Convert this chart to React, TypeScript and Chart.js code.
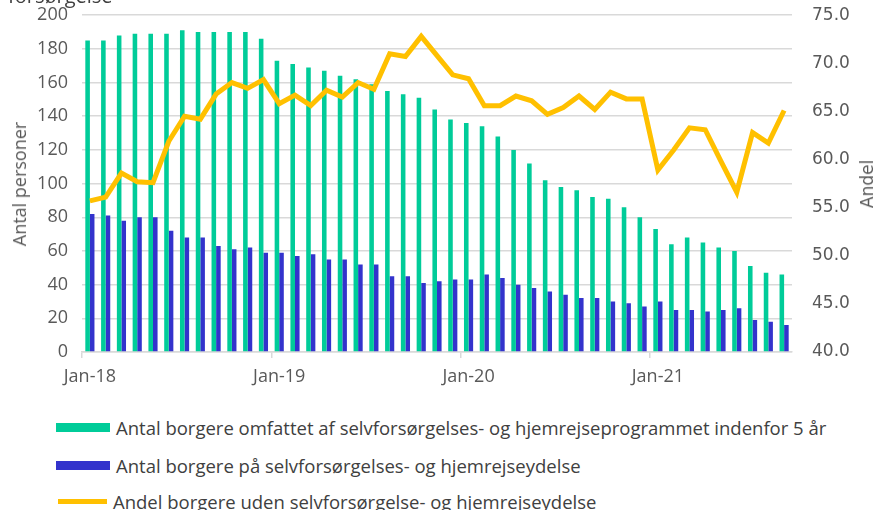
import React, { useEffect, useRef } from "react";
import { Chart, registerables } from "chart.js";

Chart.register(...registerables);

const months: string[] = [
  "Jan-18", "Feb-18", "Mar-18", "Apr-18", "May-18", "Jun-18", "Jul-18", "Aug-18", "Sep-18", "Oct-18", "Nov-18", "Dec-18",
  "Jan-19", "Feb-19", "Mar-19", "Apr-19", "May-19", "Jun-19", "Jul-19", "Aug-19", "Sep-19", "Oct-19", "Nov-19", "Dec-19",
  "Jan-20", "Feb-20", "Mar-20", "Apr-20", "May-20", "Jun-20", "Jul-20", "Aug-20", "Sep-20", "Oct-20", "Nov-20", "Dec-20",
  "Jan-21", "Feb-21", "Mar-21", "Apr-21", "May-21", "Jun-21", "Jul-21", "Aug-21", "Sep-21",
];

const omfattet: number[] = [
  185, 185, 188, 189, 189, 189, 191, 190, 190, 190, 190, 186,
  173, 171, 169, 167, 164, 162, 159, 155, 153, 151, 144, 138,
  136, 134, 128, 120, 112, 102, 98, 96, 92, 91, 86, 80,
  73, 64, 68, 65, 62, 60, 51, 47, 46,
];

const paaYdelse: number[] = [
  82, 81, 78, 80, 80, 72, 68, 68, 63, 61, 62, 59,
  59, 57, 58, 55, 55, 52, 52, 45, 45, 41, 42, 43,
  43, 46, 44, 40, 38, 36, 34, 32, 32, 30, 29, 27,
  30, 25, 25, 24, 25, 26, 19, 18, 16,
];

const andel: number[] = [
  55.7, 56.1, 58.6, 57.7, 57.6, 61.9, 64.5, 64.2, 66.8, 68.0, 67.4, 68.3,
  65.8, 66.7, 65.6, 67.2, 66.5, 68.0, 67.3, 71.0, 70.7, 72.8, 70.8, 68.8,
  68.4, 65.6, 65.6, 66.6, 66.1, 64.7, 65.4, 66.6, 65.2, 67.0, 66.3, 66.3,
  58.9, 61.0, 63.3, 63.1, 59.8, 56.6, 62.8, 61.7, 65.1,
];

const seriesNames: string[] = [
  "Antal borgere omfattet af selvforsørgelses- og hjemrejseprogrammet indenfor 5 år",
  "Antal borgere på selvforsørgelses- og hjemrejseydelse",
  "Andel borgere uden selvforsørgelse- og hjemrejseydelse",
];

const GREEN = "#00CC99";
const BLUE = "#3333CC";
const YELLOW = "#FFC000";
const GRID = "#d9d9d9";
const TICK = "#595959";

export default function App() {
  const ref = useRef<HTMLCanvasElement | null>(null);

  useEffect(() => {
    if (!ref.current) return;
    const chart = new Chart(ref.current, {
      type: "bar",
      data: {
        labels: months,
        datasets: [
          {
            type: "line",
            label: seriesNames[2],
            data: andel,
            yAxisID: "y1",
            borderColor: YELLOW,
            backgroundColor: YELLOW,
            borderWidth: 5,
            pointRadius: 0,
            tension: 0,
            order: 0,
          } as any,
          {
            type: "bar",
            label: seriesNames[0],
            data: omfattet,
            yAxisID: "y",
            backgroundColor: GREEN,
            barPercentage: 1,
            categoryPercentage: 0.58,
            order: 1,
          },
          {
            type: "bar",
            label: seriesNames[1],
            data: paaYdelse,
            yAxisID: "y",
            backgroundColor: BLUE,
            barPercentage: 1,
            categoryPercentage: 0.58,
            order: 1,
          },
        ],
      },
      options: {
        responsive: false,
        animation: false,
        layout: { padding: { top: 0, left: 0, right: 0, bottom: 0 } },
        plugins: {
          legend: { display: false },
          tooltip: { enabled: false },
          title: { display: false },
        },
        scales: {
          x: {
            type: "category",
            offset: true,
            grid: {
              offset: true,
              drawOnChartArea: false,
              drawTicks: true,
              tickLength: 6,
              lineWidth: 1.5,
              color: (ctx: any) => (ctx.index % 12 === 0 ? GRID : "rgba(0,0,0,0)"),
            },
            border: { color: GRID, width: 1.5 },
            ticks: {
              autoSkip: false,
              maxRotation: 0,
              minRotation: 0,
              padding: 8,
              color: TICK,
              font: { family: "Open Sans", size: 18 },
              callback: (_v: any, i: number) => (i % 12 === 0 ? months[i] : ""),
            },
            afterFit: (s: any) => {
              s.height = 38;
            },
          },
          y: {
            position: "left",
            min: 0,
            max: 200,
            ticks: {
              stepSize: 20,
              padding: 14,
              color: TICK,
              font: { family: "Open Sans", size: 18 },
            },
            grid: { color: GRID, lineWidth: 1.5, drawTicks: false },
            border: { display: false },
            afterFit: (s: any) => {
              s.width = 82;
            },
          },
          y1: {
            position: "right",
            min: 40,
            max: 75,
            ticks: {
              stepSize: 5,
              padding: 20,
              color: TICK,
              font: { family: "DejaVu Sans", size: 17 },
              callback: (v: any) => Number(v).toFixed(1),
            },
            grid: { drawOnChartArea: false, drawTicks: false },
            border: { display: false },
            afterFit: (s: any) => {
              s.width = 82;
            },
          },
        },
      },
    });
    return () => chart.destroy();
  }, []);

  const legendRow = (top: number, color: string, text: string, isLine: boolean) => (
    <div
      style={{
        position: "absolute",
        left: 0,
        top,
        height: 20,
        width: 874,
        display: "flex",
        alignItems: "center",
      }}
    >
      <div
        style={{
          marginLeft: isLine ? 58 : 56,
          width: isLine ? 49 : 54,
          height: isLine ? 5 : 9,
          background: color,
          flexShrink: 0,
        }}
      />
      <span
        style={{
          marginLeft: 6,
          fontFamily: "Open Sans",
          fontSize: 18.5,
          color: "#404040",
          whiteSpace: "nowrap",
        }}
      >
        {text}
      </span>
    </div>
  );

  return (
    <div
      style={{
        position: "absolute",
        left: 0,
        top: 0,
        width: 874,
        height: 510,
        overflow: "hidden",
        background: "#ffffff",
      }}
    >
      <canvas ref={ref} width={874} height={405} style={{ position: "absolute", left: 0, top: -15, width: 874, height: 405 }} />
      <div
        style={{
          position: "absolute",
          left: 8,
          top: -14,
          fontFamily: "Open Sans",
          fontSize: 20,
          lineHeight: "20px",
          color: "#404040",
          whiteSpace: "nowrap",
        }}
      >
        forsørgelse
      </div>
      <div
        style={{
          position: "absolute",
          left: 19,
          top: 184,
          transform: "translate(-50%, -50%) rotate(-90deg)",
          fontFamily: "Open Sans",
          fontSize: 18,
          color: TICK,
          whiteSpace: "nowrap",
        }}
      >
        Antal personer
      </div>
      <div
        style={{
          position: "absolute",
          left: 867,
          top: 184,
          transform: "translate(-50%, -50%) rotate(-90deg)",
          fontFamily: "DejaVu Sans",
          fontSize: 17,
          color: TICK,
          whiteSpace: "nowrap",
        }}
      >
        Andel
      </div>
      {legendRow(417, GREEN, seriesNames[0], false)}
      {legendRow(455, BLUE, seriesNames[1], false)}
      {legendRow(491, YELLOW, seriesNames[2], true)}
    </div>
  );
}
